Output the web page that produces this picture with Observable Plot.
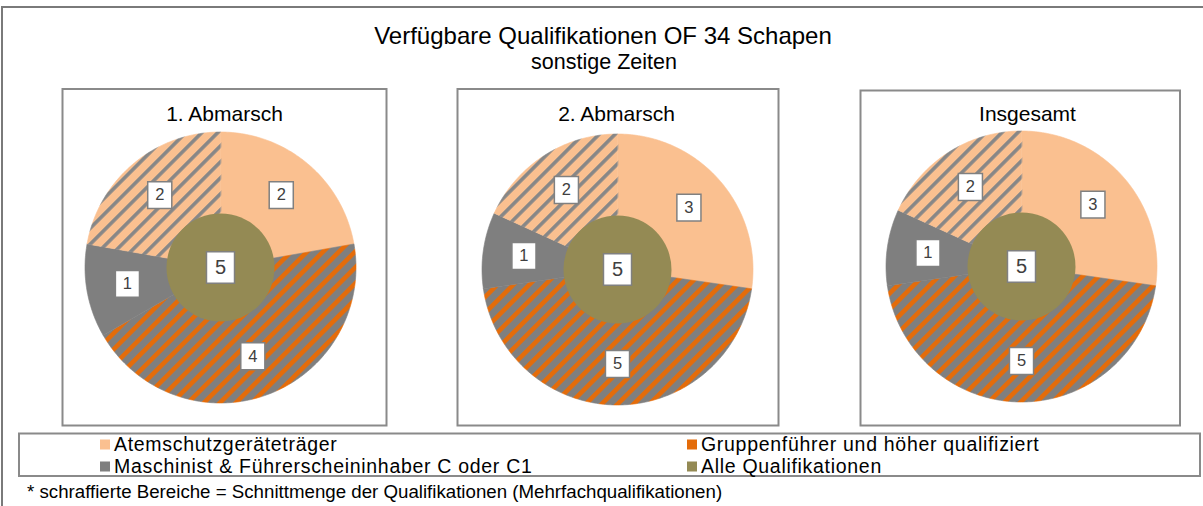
<!DOCTYPE html>
<html>
<head>
<meta charset="utf-8">
<script src="https://cdn.jsdelivr.net/npm/d3@7"></script>
<script src="https://cdn.jsdelivr.net/npm/@observablehq/plot@0.6"></script>
<style>
  html, body { margin: 0; padding: 0; background: #fff; }
  #root { position: relative; width: 1203px; height: 506px; overflow: hidden; font-family: "Liberation Sans", Arial, sans-serif; }
  .pie { position: absolute; }
</style>
</head>
<body>
<svg width="0" height="0" style="position:absolute">
  <defs>
    <pattern id="hatchGO" patternUnits="userSpaceOnUse" width="11.3" height="11.3" patternTransform="rotate(45)">
      <rect width="11.3" height="11.3" fill="#7f7f7f"></rect>
      <rect width="4.6" height="11.3" fill="#E46C0A"></rect>
    </pattern>
    <pattern id="hatchAG" patternUnits="userSpaceOnUse" width="11.3" height="11.3" patternTransform="rotate(45)">
      <rect width="11.3" height="11.3" fill="#FAC090"></rect>
      <rect width="3.6" height="11.3" fill="#878787"></rect>
    </pattern>
  </defs>
</svg>
<div id="root"></div>
<script>
// ---------- data ----------
const title = "Verfügbare Qualifikationen OF 34 Schapen";
const subtitle = "sonstige Zeiten";
const panelTitles = ["1. Abmarsch", "2. Abmarsch", "Insgesamt"];
// outer ring slices, clockwise from 12 o'clock
const sliceNames = ["Atemschutzgeräteträger", "Gruppenführer ∩ Maschinist", "Maschinist & Führerscheininhaber C oder C1", "Atemschutzgeräteträger ∩ Maschinist"];
const values1 = [2, 4, 1, 2];
const values2 = [3, 5, 1, 2];
const values3 = [3, 5, 1, 2];
// inner circle ("Alle Qualifikationen")
const innerValues = [5, 5, 5];
const legendLabels = ["Atemschutzgeräteträger", "Gruppenführer und höher qualifiziert", "Maschinist & Führerscheininhaber C oder C1", "Alle Qualifikationen"];
const footnote = "* schraffierte Bereiche = Schnittmenge der Qualifikationen (Mehrfachqualifikationen)";

// ---------- styles ----------
const C = { light: "#FAC090", orange: "#E46C0A", gray: "#7f7f7f", olive: "#948A54" };
const sliceFills = [C.light, "url(#hatchGO)", C.gray, "url(#hatchAG)"];
const legendColors = [C.light, C.orange, C.gray, C.olive];

const root = document.getElementById("root");
const NS = "http://www.w3.org/2000/svg";

// background svg (frames, titles, legend, footnote)
const bg = document.createElementNS(NS, "svg");
bg.setAttribute("width", 1203); bg.setAttribute("height", 506);
bg.style.position = "absolute"; bg.style.left = "0"; bg.style.top = "0";
root.appendChild(bg);
function el(tag, attrs, text) {
  const e = document.createElementNS(NS, tag);
  for (const k in attrs) e.setAttribute(k, attrs[k]);
  if (text != null) e.textContent = text;
  bg.appendChild(e);
  return e;
}
// outer frame
el("rect", { x: 2, y: 7, width: 1230, height: 530, fill: "none", stroke: "#7a7a7a", "stroke-width": 2 });
// titles
el("text", { x: 603, y: 44, "text-anchor": "middle", "font-size": 24, fill: "#000" }, title);
el("text", { x: 604, y: 69, "text-anchor": "middle", "font-size": 21.5, fill: "#000" }, subtitle);

// panels
const panels = [
  { box: [62.5, 89, 324, 336.5], cx: 219.5, cy: 267, tx: 224.5 },
  { box: [457.5, 89, 321, 336.5], cx: 617, cy: 268.5, tx: 616.5 },
  { box: [860.5, 90.5, 319.5, 335], cx: 1020.5, cy: 266, tx: 1027.5 }
];
panels.forEach((p, i) => {
  el("rect", { x: p.box[0], y: p.box[1], width: p.box[2], height: p.box[3], fill: "none", stroke: "#8a8a8a", "stroke-width": 2 });
  el("text", { x: p.tx, y: 121, "text-anchor": "middle", "font-size": 21, fill: "#000" }, panelTitles[i]);
});

// legend
el("rect", { x: 19, y: 433.5, width: 1181, height: 42.5, fill: "none", stroke: "#8a8a8a", "stroke-width": 2 });
const legPos = [[100, 451], [687, 451], [100, 473], [687, 473]];
legendLabels.forEach((lab, i) => {
  const [x, y] = legPos[i];
  el("rect", { x: x, y: y - 11.5, width: 10, height: 10, fill: legendColors[i] });
  el("text", { x: x + 14, y: y, "font-size": 19.5, "letter-spacing": 0.7, fill: "#000" }, lab);
});
// footnote
el("text", { x: 27, y: 498, "font-size": 18.7, fill: "#000" }, footnote);

// ---------- pies with Plot ----------
const R = 135.5;          // outer radius in px
const S = 300;            // plot size
const H = S / 2 / R;      // half-domain in radius units
const LR = 94.5 / R;      // label radius
const boxSym = {
  draw(ctx, size) {
    const r = Math.sqrt(size / Math.PI);
    const w = r * 1.72, h = r * 1.92;
    ctx.rect(-w / 2, -h / 2, w, h);
  }
};

function piePlot(values, inner) {
  const total = d3.sum(values);
  let acc = 0;
  const slices = values.map((v, i) => {
    const a0 = acc / total * 2 * Math.PI; acc += v;
    const a1 = acc / total * 2 * Math.PI;
    return { i, v, a0, a1, name: sliceNames[i] };
  });
  const pts = [];
  for (const s of slices) {
    pts.push({ slice: s.i, x: 0, y: 0, fill: sliceFills[s.i] });
    const n = Math.max(2, Math.ceil((s.a1 - s.a0) / (Math.PI / 180)));
    for (let k = 0; k <= n; k++) {
      const a = s.a0 + (s.a1 - s.a0) * k / n;
      pts.push({ slice: s.i, x: Math.sin(a), y: Math.cos(a), fill: sliceFills[s.i] });
    }
  }
  const labels = slices.map(s => {
    const m = (s.a0 + s.a1) / 2;
    return { x: LR * Math.sin(m), y: LR * Math.cos(m), t: String(s.v) };
  });
  const center = [{ x: 0, y: 0, t: String(inner) }];
  return Plot.plot({
    width: S, height: S, margin: 0,
    x: { domain: [-H, H], axis: null },
    y: { domain: [-H, H], axis: null },
    color: { type: "identity" },
    style: { background: "transparent", overflow: "visible" },
    marks: [
      Plot.line(pts, { x: "x", y: "y", z: "slice", fill: "fill", stroke: "fill", strokeWidth: 0.6, curve: "linear-closed" }),
      Plot.dot(center, { x: "x", y: "y", r: 54, fill: C.olive, stroke: "none" }),
      Plot.dot(labels, { x: "x", y: "y", r: 14, symbol: boxSym, fill: "white", stroke: "#808080", strokeWidth: 1.5 }),
      Plot.text(labels, { x: "x", y: "y", text: "t", fontSize: 16.5, fill: "#404040", fontFamily: "Liberation Sans, Arial, sans-serif" }),
      Plot.dot(center, { x: "x", y: "y", r: 16.3, symbol: boxSym, fill: "white", stroke: "#808080", strokeWidth: 1.5 }),
      Plot.text(center, { x: "x", y: "y", text: "t", fontSize: 20, fill: "#404040", fontFamily: "Liberation Sans, Arial, sans-serif" })
    ]
  });
}

[values1, values2, values3].forEach((vals, i) => {
  const chart = piePlot(vals, innerValues[i]);
  chart.classList.add("pie");
  chart.style.left = (panels[i].cx - S / 2) + "px";
  chart.style.top = (panels[i].cy - S / 2) + "px";
  root.appendChild(chart);
});
</script>
</body>
</html>
